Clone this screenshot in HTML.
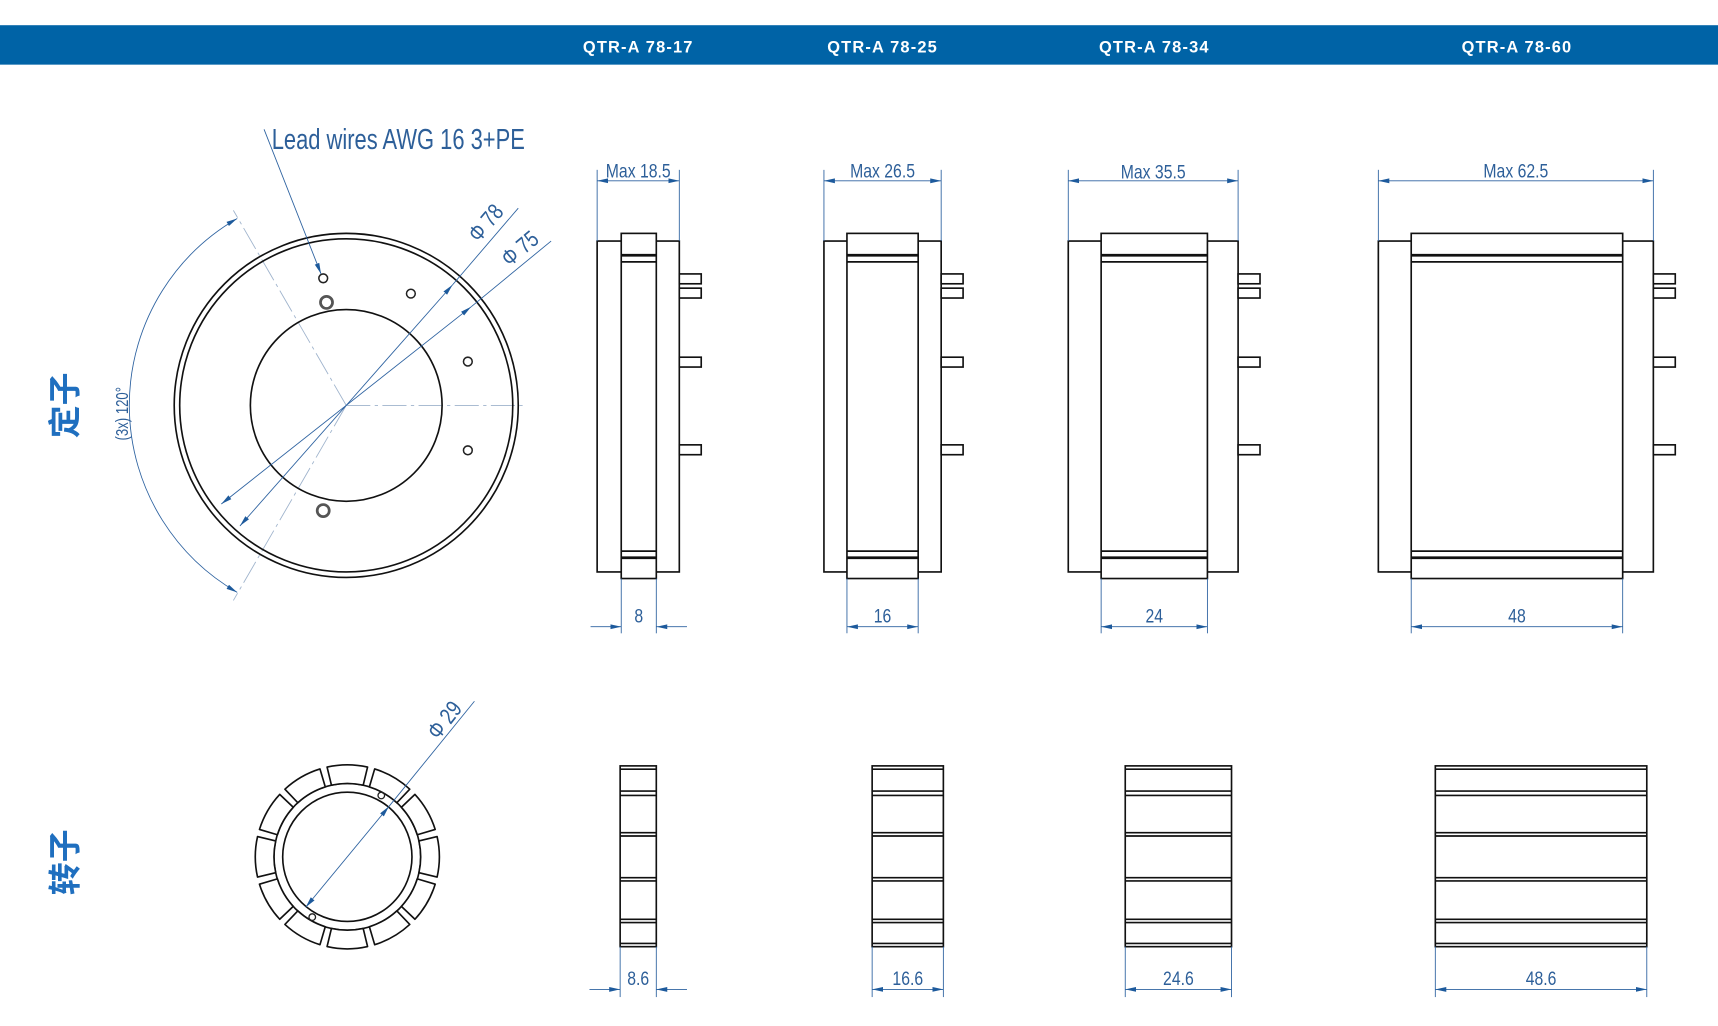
<!DOCTYPE html>
<html><head><meta charset="utf-8"><style>
html,body{margin:0;padding:0;background:#fff;}
svg{display:block;}
.k{fill:none;stroke:#111;stroke-width:1.5;}
.kw{fill:#fff;stroke:#111;stroke-width:1.5;}
.d{fill:none;stroke:#2d62a0;stroke-width:0.8;}
.c{fill:none;stroke:#9fb3cc;stroke-width:0.8;stroke-dasharray:22 4 3 4;}
.t{font-family:"Liberation Sans",sans-serif;fill:#2d5f99;font-size:18px;}
.h{font-family:"Liberation Sans",sans-serif;fill:#fff;font-size:15px;font-weight:bold;}
.cn{font-family:"Liberation Sans","Noto Sans CJK SC",sans-serif;fill:#1f6fbf;font-size:30px;font-weight:bold;}
</style></head><body>
<svg width="1718" height="1026" viewBox="0 0 1568 936.4" preserveAspectRatio="none" xmlns="http://www.w3.org/2000/svg">
<defs>
<marker id="a" viewBox="0 0 10 6" refX="10" refY="3" markerWidth="10" markerHeight="6" markerUnits="userSpaceOnUse" orient="auto-start-reverse"><path d="M0,0.8 L10,3 L0,5.2 Z" fill="#1d5a9c"/></marker>
<path id="seg" d="M65.36,-14.49 L81.94,-18.48 A84,84 0 0 1 81.94,18.48 L65.36,14.49 A67,67 0 0 0 65.36,-14.49 Z" fill="#fff" stroke="#111" stroke-width="1.5" stroke-linejoin="round"/>
</defs>
<rect x="0" y="23" width="1568" height="36" fill="#0063a6"/>
<text class="h" x="532" y="48" textLength="100">QTR-A 78-17</text>
<text class="h" x="755" y="48" textLength="100">QTR-A 78-25</text>
<text class="h" x="1003" y="48" textLength="100">QTR-A 78-34</text>
<text class="h" x="1334" y="48" textLength="100">QTR-A 78-60</text>

<text class="cn" transform="translate(70,370) rotate(-90)" text-anchor="middle">定子</text>
<text class="cn" transform="translate(70,787) rotate(-90)" text-anchor="middle">转子</text>

<!-- stator front -->
<line class="c" x1="316" y1="370" x2="478" y2="370"/>
<line class="c" x1="316" y1="370" x2="213" y2="192"/>
<line class="c" x1="316" y1="370" x2="213" y2="548"/>
<circle class="k" cx="316" cy="370" r="157"/>
<circle class="k" cx="316" cy="370" r="152"/>
<circle class="k" cx="316" cy="370" r="87.5"/>
<circle cx="295" cy="254" r="4" fill="none" stroke="#222" stroke-width="1.4"/>
<circle cx="298" cy="276" r="5.5" fill="none" stroke="#555" stroke-width="2.5"/>
<circle cx="375" cy="268" r="4" fill="none" stroke="#222" stroke-width="1.4"/>
<circle cx="427" cy="330" r="4" fill="none" stroke="#222" stroke-width="1.4"/>
<circle cx="427" cy="411" r="4" fill="none" stroke="#222" stroke-width="1.4"/>
<circle cx="295" cy="466" r="5.5" fill="none" stroke="#555" stroke-width="2.5"/>
<path class="d" d="M216.5,199.4 A197,197 0 0 0 216.5,540.6" marker-start="url(#a)" marker-end="url(#a)"/>
<line class="d" x1="219" y1="480" x2="413" y2="260" marker-start="url(#a)" marker-end="url(#a)"/>
<line class="d" x1="413" y1="260" x2="473" y2="190"/>
<line class="d" x1="202" y1="460" x2="430" y2="280" marker-start="url(#a)" marker-end="url(#a)"/>
<line class="d" x1="430" y1="280" x2="503" y2="220"/>
<line class="d" x1="241" y1="118" x2="293" y2="250" marker-end="url(#a)"/>
<text class="t" transform="translate(437,222) rotate(-50) scale(0.8,1)" style="font-size:21px">Φ 78</text>
<text class="t" transform="translate(465,244) rotate(-40) scale(0.8,1)" style="font-size:21px">Φ 75</text>
<text class="t" transform="translate(117,402) rotate(-90) scale(0.75,1)" style="font-size:16px">(3x)  120°</text>
<text class="t" x="248" y="136" style="font-size:26px" textLength="231" lengthAdjust="spacingAndGlyphs">Lead wires AWG 16 3+PE</text>

<!-- stator side views -->
<g>
<rect class="kw" x="545" y="220" width="75" height="302"/>
<rect class="kw" x="567" y="213" width="32" height="315"/>
<line x1="567" y1="233" x2="599" y2="233" stroke="#111" stroke-width="2.5"/><line class="k" x1="567" y1="239" x2="599" y2="239"/>
<line class="k" x1="567" y1="503" x2="599" y2="503"/><line x1="567" y1="509" x2="599" y2="509" stroke="#111" stroke-width="2.5"/>
<rect class="kw" x="620" y="250" width="20" height="9"/><rect class="kw" x="620" y="263" width="20" height="9"/><rect class="kw" x="620" y="326" width="20" height="9"/><rect class="kw" x="620" y="406" width="20" height="9"/>
<line class="d" x1="545" y1="155" x2="545" y2="220"/><line class="d" x1="620" y1="155" x2="620" y2="220"/>
<line class="d" x1="545" y1="165" x2="620" y2="165" marker-start="url(#a)" marker-end="url(#a)"/>
<text class="t" transform="translate(582.5,162) scale(0.8,1)" text-anchor="middle">Max  18.5</text>
<line class="d" x1="567" y1="528" x2="567" y2="578"/><line class="d" x1="599" y1="528" x2="599" y2="578"/>
<line class="d" x1="539" y1="572" x2="567" y2="572" marker-end="url(#a)"/><line class="d" x1="627" y1="572" x2="599" y2="572" marker-end="url(#a)"/>
<text class="t" transform="translate(583,568) scale(0.8,1)" text-anchor="middle">8</text>
</g>
<g>
<rect class="kw" x="752" y="220" width="107" height="302"/>
<rect class="kw" x="773" y="213" width="65" height="315"/>
<line x1="773" y1="233" x2="838" y2="233" stroke="#111" stroke-width="2.5"/><line class="k" x1="773" y1="239" x2="838" y2="239"/>
<line class="k" x1="773" y1="503" x2="838" y2="503"/><line x1="773" y1="509" x2="838" y2="509" stroke="#111" stroke-width="2.5"/>
<rect class="kw" x="859" y="250" width="20" height="9"/><rect class="kw" x="859" y="263" width="20" height="9"/><rect class="kw" x="859" y="326" width="20" height="9"/><rect class="kw" x="859" y="406" width="20" height="9"/>
<line class="d" x1="752" y1="155" x2="752" y2="220"/><line class="d" x1="859" y1="155" x2="859" y2="220"/>
<line class="d" x1="752" y1="165" x2="859" y2="165" marker-start="url(#a)" marker-end="url(#a)"/>
<text class="t" transform="translate(805.5,162) scale(0.8,1)" text-anchor="middle">Max  26.5</text>
<line class="d" x1="773" y1="528" x2="773" y2="578"/><line class="d" x1="838" y1="528" x2="838" y2="578"/>
<line class="d" x1="773" y1="572" x2="838" y2="572" marker-start="url(#a)" marker-end="url(#a)"/>
<text class="t" transform="translate(805.5,568) scale(0.8,1)" text-anchor="middle">16</text>
</g>
<g>
<rect class="kw" x="975" y="220" width="155" height="302"/>
<rect class="kw" x="1005" y="213" width="97" height="315"/>
<line x1="1005" y1="233" x2="1102" y2="233" stroke="#111" stroke-width="2.5"/><line class="k" x1="1005" y1="239" x2="1102" y2="239"/>
<line class="k" x1="1005" y1="503" x2="1102" y2="503"/><line x1="1005" y1="509" x2="1102" y2="509" stroke="#111" stroke-width="2.5"/>
<rect class="kw" x="1130" y="250" width="20" height="9"/><rect class="kw" x="1130" y="263" width="20" height="9"/><rect class="kw" x="1130" y="326" width="20" height="9"/><rect class="kw" x="1130" y="406" width="20" height="9"/>
<line class="d" x1="975" y1="155" x2="975" y2="220"/><line class="d" x1="1130" y1="155" x2="1130" y2="220"/>
<line class="d" x1="975" y1="165" x2="1130" y2="165" marker-start="url(#a)" marker-end="url(#a)"/>
<text class="t" transform="translate(1052.5,163) scale(0.8,1)" text-anchor="middle">Max  35.5</text>
<line class="d" x1="1005" y1="528" x2="1005" y2="578"/><line class="d" x1="1102" y1="528" x2="1102" y2="578"/>
<line class="d" x1="1005" y1="572" x2="1102" y2="572" marker-start="url(#a)" marker-end="url(#a)"/>
<text class="t" transform="translate(1053.5,568) scale(0.8,1)" text-anchor="middle">24</text>
</g>
<g>
<rect class="kw" x="1258" y="220" width="251" height="302"/>
<rect class="kw" x="1288" y="213" width="193" height="315"/>
<line x1="1288" y1="233" x2="1481" y2="233" stroke="#111" stroke-width="2.5"/><line class="k" x1="1288" y1="239" x2="1481" y2="239"/>
<line class="k" x1="1288" y1="503" x2="1481" y2="503"/><line x1="1288" y1="509" x2="1481" y2="509" stroke="#111" stroke-width="2.5"/>
<rect class="kw" x="1509" y="250" width="20" height="9"/><rect class="kw" x="1509" y="263" width="20" height="9"/><rect class="kw" x="1509" y="326" width="20" height="9"/><rect class="kw" x="1509" y="406" width="20" height="9"/>
<line class="d" x1="1258" y1="155" x2="1258" y2="220"/><line class="d" x1="1509" y1="155" x2="1509" y2="220"/>
<line class="d" x1="1258" y1="165" x2="1509" y2="165" marker-start="url(#a)" marker-end="url(#a)"/>
<text class="t" transform="translate(1383.5,162) scale(0.8,1)" text-anchor="middle">Max  62.5</text>
<line class="d" x1="1288" y1="528" x2="1288" y2="578"/><line class="d" x1="1481" y1="528" x2="1481" y2="578"/>
<line class="d" x1="1288" y1="572" x2="1481" y2="572" marker-start="url(#a)" marker-end="url(#a)"/>
<text class="t" transform="translate(1384.5,568) scale(0.8,1)" text-anchor="middle">48</text>
</g>

<!-- rotor front -->
<g transform="translate(317,782)">
<circle class="k" r="59"/>
<circle class="k" r="67"/>
<use href="#seg" transform="rotate(0)"/><use href="#seg" transform="rotate(30)"/><use href="#seg" transform="rotate(60)"/><use href="#seg" transform="rotate(90)"/>
<use href="#seg" transform="rotate(120)"/><use href="#seg" transform="rotate(150)"/><use href="#seg" transform="rotate(180)"/><use href="#seg" transform="rotate(210)"/>
<use href="#seg" transform="rotate(240)"/><use href="#seg" transform="rotate(270)"/><use href="#seg" transform="rotate(300)"/><use href="#seg" transform="rotate(330)"/>
</g>
<circle cx="348" cy="726" r="3" fill="none" stroke="#222" stroke-width="1.2"/>
<circle cx="285" cy="837" r="3" fill="none" stroke="#222" stroke-width="1.2"/>
<line class="d" x1="279" y1="828" x2="355" y2="736" marker-start="url(#a)" marker-end="url(#a)"/>
<line class="d" x1="355" y1="736" x2="433" y2="640"/>
<text class="t" transform="translate(400,676) rotate(-52) scale(0.8,1)" style="font-size:21px">Φ 29</text>

<!-- rotor side views -->
<g>
<rect class="kw" x="566" y="699" width="33" height="165"/>
<path class="k" d="M566,702H599M566,722H599M566,726H599M566,760H599M566,763H599M566,801H599M566,804H599M566,839H599M566,842H599M566,861H599"/>
<line class="d" x1="566" y1="864" x2="566" y2="910"/><line class="d" x1="599" y1="864" x2="599" y2="910"/>
<line class="d" x1="538" y1="903" x2="566" y2="903" marker-end="url(#a)"/><line class="d" x1="627" y1="903" x2="599" y2="903" marker-end="url(#a)"/>
<text class="t" transform="translate(582.5,899) scale(0.8,1)" text-anchor="middle">8.6</text>
</g>
<g>
<rect class="kw" x="796" y="699" width="65" height="165"/>
<path class="k" d="M796,702H861M796,722H861M796,726H861M796,760H861M796,763H861M796,801H861M796,804H861M796,839H861M796,842H861M796,861H861"/>
<line class="d" x1="796" y1="864" x2="796" y2="910"/><line class="d" x1="861" y1="864" x2="861" y2="910"/>
<line class="d" x1="796" y1="903" x2="861" y2="903" marker-start="url(#a)" marker-end="url(#a)"/>
<text class="t" transform="translate(828.5,899) scale(0.8,1)" text-anchor="middle">16.6</text>
</g>
<g>
<rect class="kw" x="1027" y="699" width="97" height="165"/>
<path class="k" d="M1027,702H1124M1027,722H1124M1027,726H1124M1027,760H1124M1027,763H1124M1027,801H1124M1027,804H1124M1027,839H1124M1027,842H1124M1027,861H1124"/>
<line class="d" x1="1027" y1="864" x2="1027" y2="910"/><line class="d" x1="1124" y1="864" x2="1124" y2="910"/>
<line class="d" x1="1027" y1="903" x2="1124" y2="903" marker-start="url(#a)" marker-end="url(#a)"/>
<text class="t" transform="translate(1075.5,899) scale(0.8,1)" text-anchor="middle">24.6</text>
</g>
<g>
<rect class="kw" x="1310" y="699" width="193" height="165" stroke-width="2"/>
<path class="k" stroke-width="2" d="M1310,702H1503M1310,722H1503M1310,726H1503M1310,760H1503M1310,763H1503M1310,801H1503M1310,804H1503M1310,839H1503M1310,842H1503M1310,861H1503"/>
<line class="d" x1="1310" y1="864" x2="1310" y2="910"/><line class="d" x1="1503" y1="864" x2="1503" y2="910"/>
<line class="d" x1="1310" y1="903" x2="1503" y2="903" marker-start="url(#a)" marker-end="url(#a)"/>
<text class="t" transform="translate(1406.5,899) scale(0.8,1)" text-anchor="middle">48.6</text>
</g>
</svg>
</body></html>
